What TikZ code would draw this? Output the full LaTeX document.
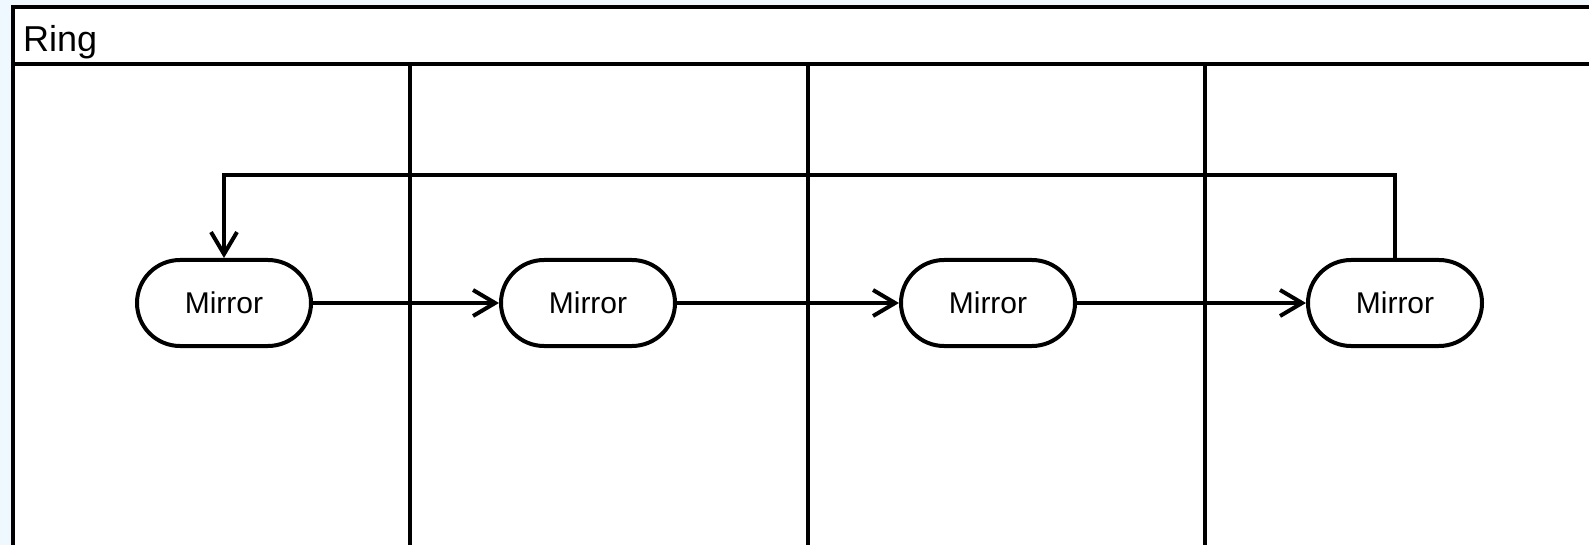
\documentclass[tikz,border=0pt]{standalone}
\usepackage{fontspec}
\setmainfont{Liberation Sans}
\usetikzlibrary{arrows.meta}
\usetikzlibrary{positioning}
\definecolor{lanebg}{HTML}{F0F8FF}
\tikzset{lane/.style = {line width=4.5pt},
         mirror/.style = {draw, fill=white, line width=4pt, rounded corners=43pt,
                          minimum width=174pt, minimum height=86pt, inner sep=0pt,
                          font=\fontsize{30}{30}\selectfont},
         flow/.style = {line width=3.5pt,
                        -{Straight Barb[length=22pt, width=26pt, line width=4pt]}}}

\begin{document}
\begin{tikzpicture}[x=1pt, y=-1pt]
    \useasboundingbox (0,0) rectangle (1589,545);
    \fill[lanebg] (0,0) rectangle (1589,545);

    % pool and lanes
    \draw[lane, fill=white] (13,7) rectangle (1602,560);
    \draw[lane] (13,64) -- (1602,64);
    \foreach \x in {410,808,1205}
        \draw[lane] (\x,64) -- (\x,560);
    \node[anchor=base west, inner sep=0pt, font=\fontsize{36}{36}\selectfont] (ring) at (23,52) {Ring};

    \node[mirror] (m1) at (224,303) {Mirror};
    \node[mirror] (m2) at (588,303) {Mirror};
    \node[mirror] (m3) at (988,303) {Mirror};
    \node[mirror] (m4) at (1395,303) {Mirror};

    \draw[flow] (m1) -- (m2);
    \draw[flow] (m2) -- (m3);
    \draw[flow] (m3) -- (m4);
    \draw[flow] (m4.north) -- ++(0,-83) -| (m1.north);
\end{tikzpicture}
\end{document}
